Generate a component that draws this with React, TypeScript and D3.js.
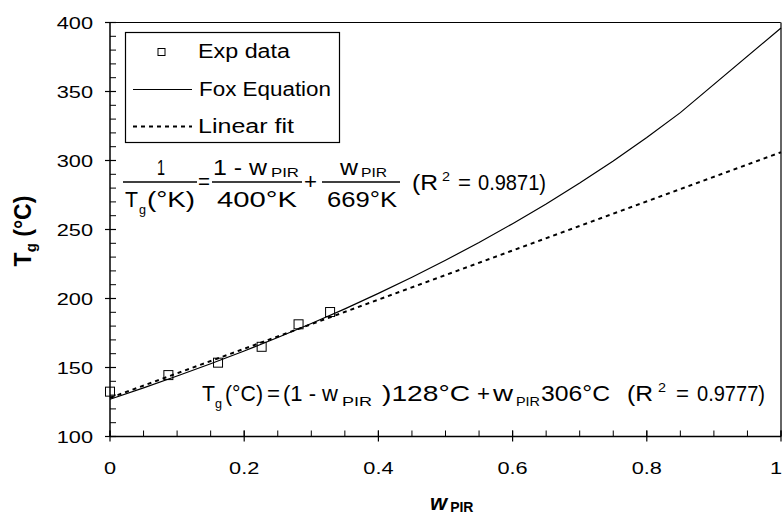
import React from "react";
import * as d3 from "d3";

// ---- data ----
const expW = [0, 0.087, 0.161, 0.226, 0.281, 0.328];
const expTg = [132.5, 144.5, 153.5, 165, 181.3, 190.2];

const foxW = [0, 0.05, 0.1, 0.15, 0.2, 0.25, 0.3, 0.35, 0.4, 0.45, 0.5, 0.55, 0.6, 0.65, 0.7, 0.75, 0.8, 0.85, 1.0];
const foxTg = [127, 135.2, 143.8, 152.7, 162.0, 171.7, 181.9, 192.5, 203.7, 215.4, 227.7, 240.6, 254.2, 268.5, 283.7, 299.7, 316.7, 334.7, 396];

const linW = [0, 1];
const linTg = [128, 306];

const xTicks = [0, 0.2, 0.4, 0.6, 0.8, 1];
const xTickLabels = ["0", "0.2", "0.4", "0.6", "0.8", "1"];
const yTicks = [100, 150, 200, 250, 300, 350, 400];
const yTickLabels = ["100", "150", "200", "250", "300", "350", "400"];

const legendLabels = ["Exp data", "Fox Equation", "Linear fit"];

const FONT = "'Liberation Sans', Arial, Helvetica, sans-serif";

const X0 = 110, X1 = 781, Y0 = 436.5, Y1 = 22.5;

type TP = { x: number; y: number; w?: number; size?: number; children: React.ReactNode; anchor?: string; weight?: string; italic?: boolean };
const Txt = ({ x, y, w, size = 22, children, anchor, weight, italic }: TP) => (
  <text
    x={x}
    y={y}
    fontSize={size}
    textLength={w}
    lengthAdjust={w ? "spacingAndGlyphs" : undefined}
    textAnchor={anchor || "start"}
    fontWeight={weight}
    fontStyle={italic ? "italic" : undefined}
    fill="#000"
  >
    {children}
  </text>
);

export default function App() {
  const x = d3.scaleLinear().domain([0, 1]).range([X0, X1]);
  const y = d3.scaleLinear().domain([100, 400]).range([Y0, Y1]);

  const line = d3
    .line<[number, number]>()
    .x((d) => x(d[0]))
    .y((d) => y(d[1]));

  const foxPts = foxW.map((w, i) => [w, foxTg[i]] as [number, number]);
  const linPts = linW.map((w, i) => [w, linTg[i]] as [number, number]);

  const xMinor = d3.range(0, 1.0001, 0.05);
  const yMinor = d3.range(100, 400.001, 10);

  const sq = 9;

  return (
    <svg
      width={784}
      height={518}
      style={{ position: "absolute", left: 0, top: 0, background: "#fff" }}
      fontFamily={FONT}
    >
      <rect x={0} y={0} width={784} height={518} fill="#fff" />

      {/* frame */}
      <line x1={X0} x2={X1} y1={Y1} y2={Y1} stroke="#000" strokeWidth={1.2} />
      <line x1={X1} x2={X1} y1={Y1} y2={Y0} stroke="#666" strokeWidth={2} />

      {/* minor ticks */}
      {xMinor.map((v, i) => (
        <line key={"xm" + i} x1={x(v)} x2={x(v)} y1={Y0} y2={Y0 - 6} stroke="#000" strokeWidth={1} />
      ))}
      {yMinor.map((v, i) => (
        <line key={"ym" + i} x1={X0} x2={X0 + 6} y1={y(v)} y2={y(v)} stroke="#000" strokeWidth={1} />
      ))}
      {/* major ticks */}
      {xTicks.map((v, i) => (
        <line key={"xM" + i} x1={x(v)} x2={x(v)} y1={Y0 - 6} y2={Y0 + 5} stroke="#000" strokeWidth={1.2} />
      ))}
      {yTicks.map((v, i) => (
        <line key={"yM" + i} x1={X0 - 5} x2={X0 + 6} y1={y(v)} y2={y(v)} stroke="#000" strokeWidth={1.2} />
      ))}

      {/* axes */}
      <line x1={X0} x2={X1} y1={Y0} y2={Y0} stroke="#000" strokeWidth={1.5} />
      <line x1={X0} x2={X0} y1={Y0} y2={Y1} stroke="#000" strokeWidth={1.5} />

      {/* tick labels */}
      {yTicks.map((v, i) => (
        <text
          key={"yl" + i}
          transform={`translate(93,${y(v) + 6}) scale(1.28,1)`}
          textAnchor="end"
          fontSize={17}
          fill="#000"
        >
          {yTickLabels[i]}
        </text>
      ))}
      {xTicks.map((v, i) => (
        <text
          key={"xl" + i}
          transform={`translate(${Math.min(x(v), 776)},474) scale(1.28,1)`}
          textAnchor="middle"
          fontSize={17}
          fill="#000"
        >
          {xTickLabels[i]}
        </text>
      ))}

      {/* axis titles */}
      <text transform="translate(31,231) rotate(-90)" textAnchor="middle" fontSize={23} fontWeight="bold" fill="#000">
        T<tspan fontSize={15} dy={5}>g</tspan>
        <tspan dy={-5}> (°C)</tspan>
      </text>
      <text x={430} y={510} fontSize={22} fontWeight="bold" fill="#000">
        <tspan fontStyle="italic">w</tspan>
        <tspan fontSize={14} dx={3} dy={2}>PIR</tspan>
      </text>

      {/* curves */}
      <path d={line(foxPts) || ""} fill="none" stroke="#000" strokeWidth={1.2} />
      <path d={line(linPts) || ""} fill="none" stroke="#000" strokeWidth={2} strokeDasharray="4,4" />

      {/* data points */}
      {expW.map((w, i) => (
        <rect
          key={"p" + i}
          x={x(w) - sq / 2}
          y={y(expTg[i]) - sq / 2}
          width={sq}
          height={sq}
          fill="none"
          stroke="#000"
          strokeWidth={1}
        />
      ))}

      {/* legend */}
      <rect x={125.5} y={32.5} width={214} height={110} fill="#fff" stroke="#000" strokeWidth={1.2} />
      <rect x={158} y={48.5} width={7} height={7} fill="none" stroke="#000" strokeWidth={1} />
      <line x1={133} x2={192} y1={89.5} y2={89.5} stroke="#000" strokeWidth={1.2} />
      <line x1={133} x2={192} y1={126.5} y2={126.5} stroke="#000" strokeWidth={2} strokeDasharray="4,4" />
      <Txt x={198} y={58} w={92} size={20}>{legendLabels[0]}</Txt>
      <Txt x={199} y={96} w={132} size={20}>{legendLabels[1]}</Txt>
      <Txt x={198} y={133} w={96} size={20}>{legendLabels[2]}</Txt>

      {/* Fox equation annotation */}
      <Txt x={157} y={175} w={8}>1</Txt>
      <line x1={123} x2={197} y1={182} y2={182} stroke="#000" strokeWidth={1.5} />
      <Txt x={125} y={207} w={13}>T</Txt>
      <Txt x={139} y={214} w={7} size={13}>g</Txt>
      <Txt x={147} y={207} w={48}>(°K)</Txt>
      <Txt x={198} y={189} w={12}>=</Txt>
      <Txt x={213} y={175} w={54}>1 - w</Txt>
      <Txt x={271} y={177} w={28} size={13}>PIR</Txt>
      <line x1={212} x2={302} y1={182} y2={182} stroke="#000" strokeWidth={1.5} />
      <Txt x={217} y={207} w={80}>400°K</Txt>
      <Txt x={304} y={189} w={13}>+</Txt>
      <Txt x={340} y={175} w={18}>w</Txt>
      <Txt x={361} y={177} w={26} size={13}>PIR</Txt>
      <line x1={322} x2={400} y1={182} y2={182} stroke="#000" strokeWidth={1.5} />
      <Txt x={327} y={207} w={70}>669°K</Txt>
      <Txt x={412} y={190} w={26}>(R</Txt>
      <Txt x={442} y={181} w={8} size={13}>2</Txt>
      <Txt x={458} y={190} w={13}>=</Txt>
      <Txt x={478} y={190} w={68}>0.9871)</Txt>

      {/* Linear fit annotation */}
      <Txt x={202} y={401} w={13}>T</Txt>
      <Txt x={215} y={408} w={7} size={13}>g</Txt>
      <Txt x={225} y={401} w={38}>(°C)</Txt>
      <Txt x={267} y={401} w={13}>=</Txt>
      <Txt x={283} y={401} w={55}>(1 - w</Txt>
      <Txt x={342} y={406} w={30} size={13}>PIR</Txt>
      <Txt x={382} y={401} w={88}>)128°C</Txt>
      <Txt x={477} y={401} w={13}>+</Txt>
      <Txt x={493} y={401} w={20}>w</Txt>
      <Txt x={516} y={406} w={24} size={13}>PIR</Txt>
      <Txt x={541} y={401} w={69}>306°C</Txt>
      <Txt x={627} y={401} w={26}>(R</Txt>
      <Txt x={658} y={392} w={8} size={13}>2</Txt>
      <Txt x={676} y={401} w={13}>=</Txt>
      <Txt x={697} y={401} w={68}>0.9777)</Txt>
    </svg>
  );
}
